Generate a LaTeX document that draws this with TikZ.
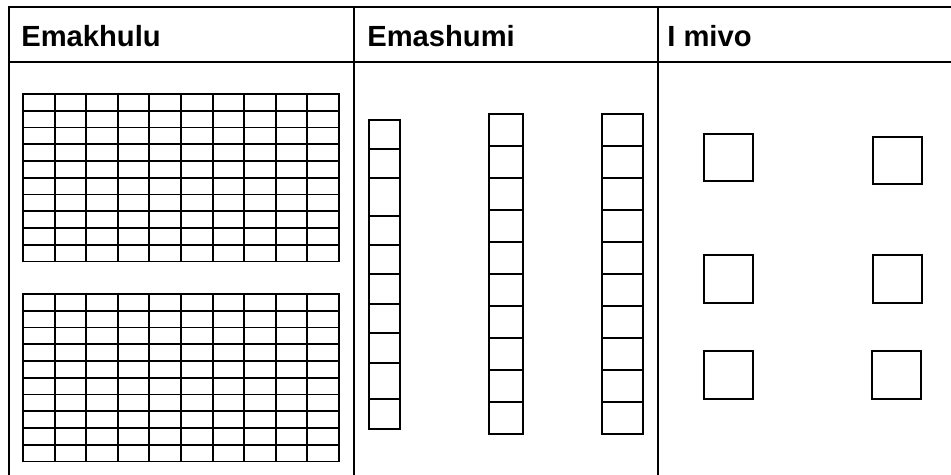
\documentclass[tikz,border=0pt]{standalone}
\usepackage{fontspec}
\setmainfont{Liberation Sans}
\usepackage{tikz}
\tikzset{
  frame/.style={line width=1.3pt, color=black},
  gridline/.style={line width=1.1pt, color=black},
  tenbox/.style={line width=1.1pt, color=black},
  onebox/.style={line width=0.8pt, color=black},
  header/.style={anchor=base west, inner sep=0pt,
    font=\fontsize{16.6}{20}\selectfont\bfseries}
}

\begin{document}
\begin{tikzpicture}[x=0.02cm, y=-0.02cm]
  \useasboundingbox (0,0) rectangle (951,475);
  % table frame
  \draw[frame] (951,7) -- (9,7) -- (9,475);
  \draw[frame] (9,62) -- (951,62);
  \draw[frame] (354,7) -- (354,475);
  \draw[frame] (658,7) -- (658,475);
  \node[header] (hundreds) at (21,47) {Emakhulu};
  \node[header] (tens) at (367,47) {Emashumi};
  \node[header] (ones) at (667,47) {I mivo};
  % hundreds: two 10 x 10 grids
  \foreach \gy in {94,294} {
    \draw[gridline] (23,\gy) rectangle (339,\gy+167.5);
    \foreach \i in {1,...,9} {
      \draw[gridline] (23+31.6*\i,\gy) -- (23+31.6*\i,\gy+167.5);
      \draw[gridline] (23,\gy+16.75*\i) -- (339,\gy+16.75*\i);
    }
  }
  % tens: three strips of ten
  \draw[tenbox] (369,120) rectangle (400,429);
  \foreach \ty in {149,178,216,245,274,304,333,363,399}
    \draw[tenbox] (369,\ty) -- (400,\ty);
  \foreach \tx/\tw in {489/34,602/41} {
    \draw[tenbox] (\tx,114) rectangle (\tx+\tw,434);
    \foreach \i in {1,...,9}
      \draw[tenbox] (\tx,114+32*\i) -- (\tx+\tw,114+32*\i);
  }
  % ones
  \draw[onebox] (704,134) rectangle (753,181);
  \draw[onebox] (873,137) rectangle (922,184);
  \draw[onebox] (704,255) rectangle (753,303);
  \draw[onebox] (873,255) rectangle (922,303);
  \draw[onebox] (704,351) rectangle (753,399);
  \draw[onebox] (872,351) rectangle (921,399);
\end{tikzpicture}
\end{document}
